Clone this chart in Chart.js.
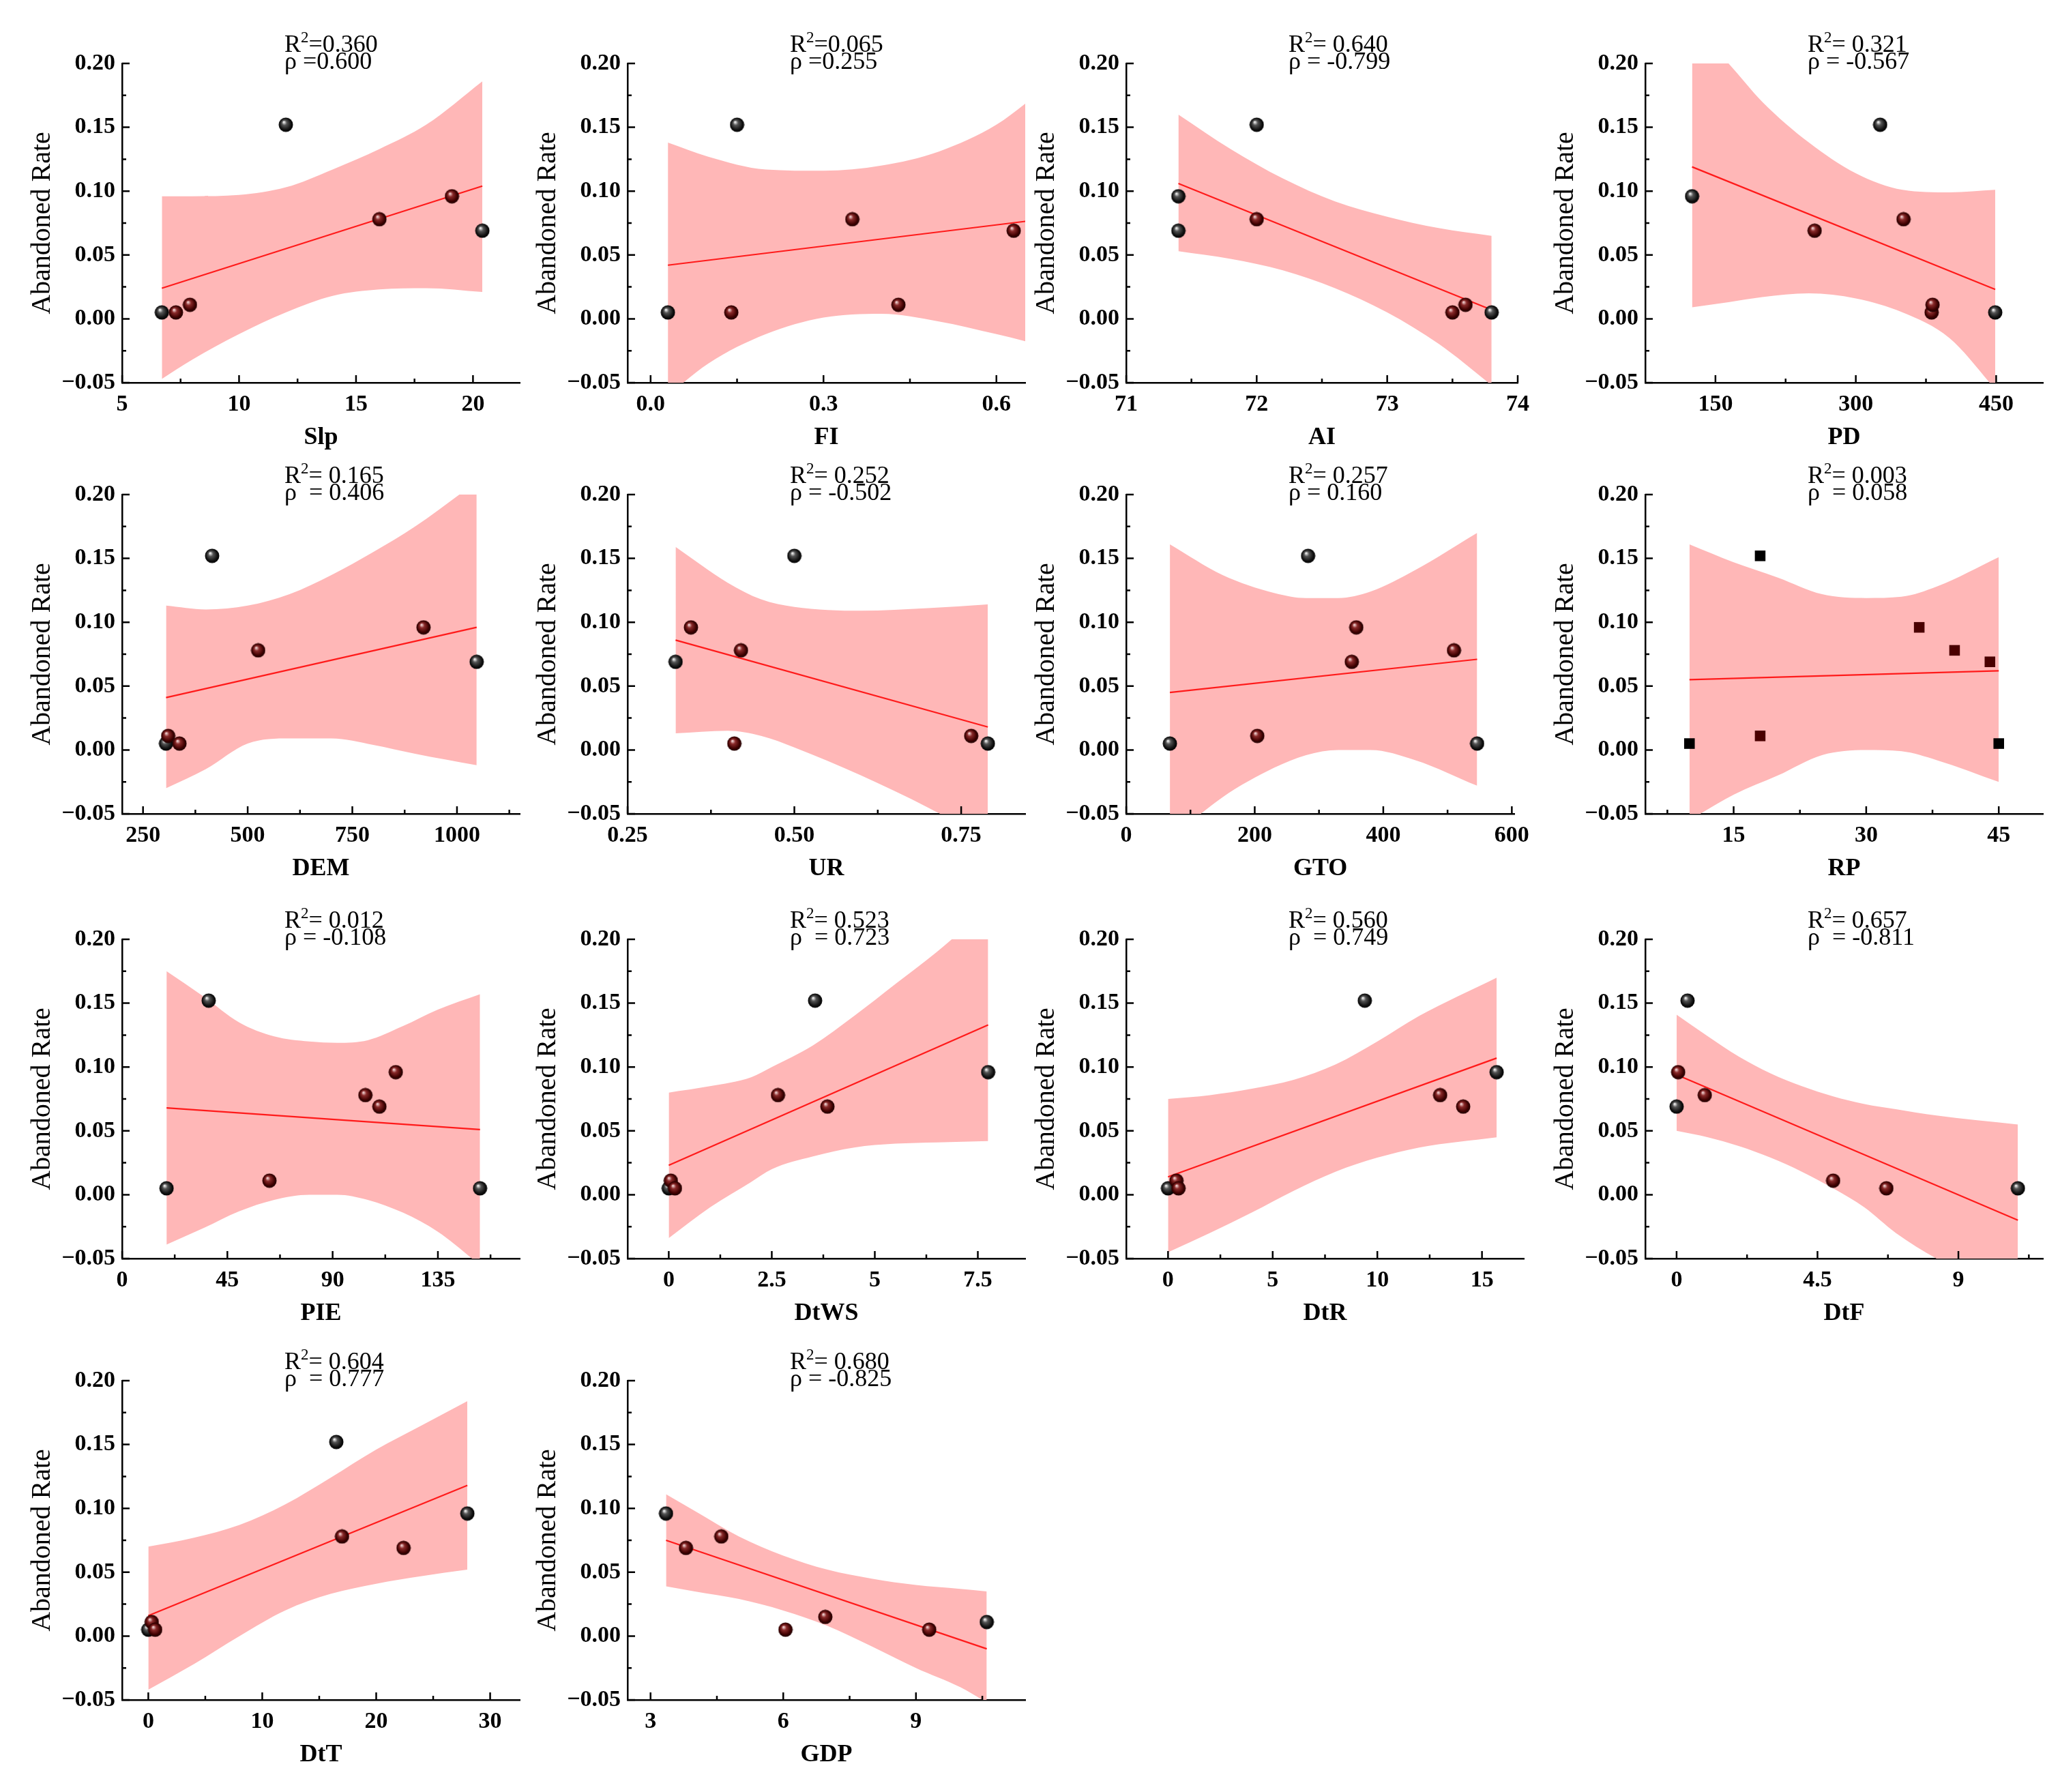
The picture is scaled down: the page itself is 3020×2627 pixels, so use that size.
<!DOCTYPE html>
<html>
<head>
<meta charset="utf-8">
<script src="https://cdn.jsdelivr.net/npm/chart.js@4.4.1/dist/chart.umd.min.js"></script>
<style>
  html, body { margin: 0; padding: 0; background: #fff; }
  #wrap { position: relative; width: 3020px; height: 2627px; }
  canvas { position: absolute; }
</style>
</head>
<body>
<div id="wrap"></div>
<script>
const names = ['Slp', 'FI', 'AI', 'PD', 'DEM', 'UR', 'GTO', 'RP', 'PIE', 'DtWS', 'DtR', 'DtF', 'DtT', 'GDP'];
const r2Text = ['=0.360', '=0.065', '= 0.640', '= 0.321', '= 0.165', '= 0.252', '= 0.257',
  '= 0.003', '= 0.012', '= 0.523', '= 0.560', '= 0.657', '= 0.604', '= 0.680'];
const rhoText = ['ρ =0.600', 'ρ =0.255', 'ρ = -0.799', 'ρ = -0.567', 'ρ  = 0.406', 'ρ = -0.502', 'ρ = 0.160',
  'ρ  = 0.058', 'ρ = -0.108', 'ρ  = 0.723', 'ρ  = 0.749', 'ρ  = -0.811', 'ρ  = 0.777', 'ρ = -0.825'];

const xMin = [5, -0.04, 71, 75, 200, 0.25, 0, 5, 0, -1, -2, -1, -2.3, 2.48];
const xMax = [22, 0.65, 74, 500, 1150, 0.846, 604, 50, 170, 8.65, 17, 11.7, 32.6, 11.47];
const xTicks = [
  [5, 10, 15, 20], [0, 0.3, 0.6], [71, 72, 73, 74], [150, 300, 450], [250, 500, 750, 1000],
  [0.25, 0.5, 0.75], [0, 200, 400, 600], [15, 30, 45], [0, 45, 90, 135], [0, 2.5, 5, 7.5],
  [0, 5, 10, 15], [0, 4.5, 9], [0, 10, 20, 30], [3, 6, 9],
];
const xTickLabels = [
  ['5', '10', '15', '20'], ['0.0', '0.3', '0.6'], ['71', '72', '73', '74'], ['150', '300', '450'],
  ['250', '500', '750', '1000'], ['0.25', '0.50', '0.75'], ['0', '200', '400', '600'], ['15', '30', '45'],
  ['0', '45', '90', '135'], ['0', '2.5', '5', '7.5'], ['0', '5', '10', '15'], ['0', '4.5', '9'],
  ['0', '10', '20', '30'], ['3', '6', '9'],
];
const yTicks = [-0.05, 0, 0.05, 0.1, 0.15, 0.2];
const yTickLabels = ['\u22120.05', '0.00', '0.05', '0.10', '0.15', '0.20'];

const xVals = [
  [6.7, 7.3, 7.9, 12, 16, 19.1, 20.4],
  [0.03, 0.14, 0.15, 0.35, 0.43, 0.63, 0.68],
  [71.4, 71.4, 72, 72, 73.5, 73.6, 73.8],
  [125, 256, 326, 351, 381, 382, 449],
  [305, 310, 337, 415, 525, 920, 1047],
  [0.322, 0.345, 0.41, 0.42, 0.5, 0.765, 0.79],
  [68, 204, 283, 351, 358, 510, 546],
  [10, 18, 18, 36, 40, 44, 45],
  [19, 37, 63, 104, 110, 117, 153],
  [0, 0.05, 0.15, 2.65, 3.55, 3.85, 7.75],
  [0, 0.4, 0.5, 9.4, 13, 14.1, 15.7],
  [0, 0.05, 0.35, 0.9, 5, 6.7, 10.9],
  [0, 0.3, 0.6, 16.5, 17, 22.4, 28],
  [3.35, 3.8, 4.6, 6.05, 6.95, 9.3, 10.6],
];
const yVals = [
  [0.005, 0.005, 0.011, 0.152, 0.078, 0.096, 0.069],
  [0.005, 0.005, 0.152, 0.078, 0.011, 0.069, 0.096],
  [0.096, 0.069, 0.152, 0.078, 0.005, 0.011, 0.005],
  [0.096, 0.069, 0.152, 0.078, 0.005, 0.011, 0.005],
  [0.005, 0.011, 0.005, 0.152, 0.078, 0.096, 0.069],
  [0.069, 0.096, 0.005, 0.078, 0.152, 0.011, 0.005],
  [0.005, 0.011, 0.152, 0.069, 0.096, 0.078, 0.005],
  [0.005, 0.152, 0.011, 0.096, 0.078, 0.069, 0.005],
  [0.005, 0.152, 0.011, 0.078, 0.069, 0.096, 0.005],
  [0.005, 0.011, 0.005, 0.078, 0.152, 0.069, 0.096],
  [0.005, 0.011, 0.005, 0.152, 0.078, 0.069, 0.096],
  [0.069, 0.096, 0.152, 0.078, 0.011, 0.005, 0.005],
  [0.005, 0.011, 0.005, 0.152, 0.078, 0.069, 0.096],
  [0.096, 0.069, 0.078, 0.005, 0.015, 0.005, 0.011],
];

// regression line end points
const fitX = [[6.7, 20.4], [0.03, 0.68], [71.4, 73.8], [125, 449], [305, 1047], [0.322, 0.79], [68, 546],
  [10, 45], [19, 153], [0, 7.75], [0, 15.7], [0, 10.9], [0, 28], [3.35, 10.6]];
const fitY = [[0.024, 0.104], [0.042, 0.078], [0.106, 0.007], [0.119, 0.023], [0.041, 0.096], [0.086, 0.018],
  [0.045, 0.071], [0.055, 0.062], [0.068, 0.051], [0.023, 0.133], [0.014, 0.107], [0.094, -0.02],
  [0.016, 0.118], [0.075, -0.01]];

// confidence band
const bandX = [
  [6.7, 8, 10, 12, 14, 16, 18, 20.4],
  [0.03, 0.1, 0.2, 0.3, 0.4, 0.5, 0.6, 0.68],
  [71.4, 71.8, 72.2, 72.6, 73, 73.4, 73.8],
  [125, 164, 200, 250, 300, 350, 400, 449],
  [305, 400, 500, 600, 700, 800, 900, 1047],
  [0.322, 0.4, 0.45, 0.5, 0.6, 0.7, 0.79],
  [68, 150, 230, 280, 330, 380, 450, 546],
  [10, 15, 20, 25, 30, 34, 38, 45],
  [19, 35, 50, 65, 80, 92, 105, 120, 135, 153],
  [0, 1, 2, 2.5, 3.5, 4.5, 5.5, 6.5, 7.75],
  [0, 2, 4, 6, 8, 10, 12, 15.7],
  [0, 1, 2, 3, 4, 5, 6, 7, 8.3, 10.9],
  [0, 4, 8, 12, 16, 20, 24, 28],
  [3.35, 4, 5, 6, 7, 8, 9, 10, 10.6],
];
const bandHi = [
  [0.096, 0.096, 0.097, 0.103, 0.117, 0.133, 0.152, 0.186],
  [0.138, 0.127, 0.117, 0.116, 0.12, 0.131, 0.152, 0.179],
  [0.16, 0.133, 0.11, 0.092, 0.08, 0.071, 0.065],
  [0.23, 0.2, 0.17, 0.138, 0.114, 0.101, 0.099, 0.101],
  [0.113, 0.11, 0.113, 0.122, 0.137, 0.155, 0.175, 0.21],
  [0.159, 0.131, 0.118, 0.112, 0.109, 0.111, 0.114],
  [0.161, 0.137, 0.123, 0.119, 0.119, 0.124, 0.141, 0.17],
  [0.161, 0.147, 0.135, 0.122, 0.119, 0.12, 0.128, 0.151],
  [0.175, 0.155, 0.135, 0.124, 0.12, 0.119, 0.121, 0.132, 0.145, 0.157],
  [0.08, 0.085, 0.092, 0.1, 0.117, 0.14, 0.165, 0.19, 0.225],
  [0.075, 0.078, 0.083, 0.09, 0.102, 0.12, 0.14, 0.17],
  [0.141, 0.124, 0.108, 0.095, 0.085, 0.077, 0.071, 0.067, 0.062, 0.055],
  [0.07, 0.077, 0.087, 0.103, 0.124, 0.146, 0.165, 0.184],
  [0.111, 0.098, 0.078, 0.063, 0.052, 0.045, 0.04, 0.037, 0.035],
];
const bandLo = [
  [-0.047, -0.032, -0.012, 0.005, 0.018, 0.023, 0.024, 0.021],
  [-0.06, -0.035, -0.012, 0.001, 0.004, -0.002, -0.012, -0.021],
  [0.053, 0.047, 0.038, 0.024, 0.005, -0.02, -0.052],
  [0.009, 0.013, 0.017, 0.02, 0.016, 0.005, -0.015, -0.055],
  [-0.03, -0.015, 0.005, 0.009, 0.009, 0.004, -0.003, -0.012],
  [0.013, 0.015, 0.011, 0.002, -0.02, -0.045, -0.07],
  [-0.07, -0.037, -0.014, -0.004, 0, 0, -0.008, -0.028],
  [-0.055, -0.035, -0.02, -0.004, 0, -0.001, -0.008, -0.025],
  [-0.039, -0.026, -0.013, -0.004, 0, 0, -0.004, -0.014, -0.029, -0.055],
  [-0.034, -0.01, 0.01, 0.02, 0.03, 0.037, 0.04, 0.041, 0.042],
  [-0.045, -0.03, -0.014, 0.003, 0.018, 0.029, 0.037, 0.045],
  [0.05, 0.045, 0.038, 0.029, 0.018, 0.005, -0.01, -0.03, -0.05, -0.08],
  [-0.042, -0.022, 0, 0.02, 0.033, 0.041, 0.047, 0.052],
  [0.039, 0.035, 0.029, 0.02, 0.008, -0.008, -0.025, -0.04, -0.052],
];

const colLeft = [179, 920, 1651, 2412];
const rowTop = [93, 725, 1377, 2024];
const PLOT_W = 583;
const PLOT_H = 468;
const PAD_TOP = 110;
const AXIS_H = 130;
const Y_W = 179;
const SERIF = '"Liberation Serif", "DejaVu Serif", serif';

function sphere(black) {
  const c = document.createElement('canvas');
  c.width = 22; c.height = 22;
  const g = c.getContext('2d');
  const grad = g.createRadialGradient(8, 7, 0.5, 11, 11, 11);
  if (black) {
    grad.addColorStop(0, '#f4f4f4');
    grad.addColorStop(0.3, '#555');
    grad.addColorStop(0.75, '#111');
    grad.addColorStop(1, '#000');
  } else {
    grad.addColorStop(0, '#f3d6d6');
    grad.addColorStop(0.3, '#8a2a2a');
    grad.addColorStop(0.75, '#3d0000');
    grad.addColorStop(1, '#1a0000');
  }
  g.fillStyle = grad;
  g.beginPath();
  g.arc(11, 11, 10.5, 0, Math.PI * 2);
  g.fill();
  return c;
}
const redBall = sphere(false);
const blackBall = sphere(true);

function minorOf(ticks, min, max) {
  const step = ticks.length > 1 ? ticks[1] - ticks[0] : 1;
  const out = [];
  for (let v = ticks[0] - step / 2; v > min; v -= step) out.push(v);
  for (let v = ticks[0] + step / 2; v < max; v += step) out.push(v);
  return out;
}

const decor = {
  id: 'decor',
  afterDraw(chart, args, o) {
    const { ctx, chartArea: a, scales: { x, y } } = chart;
    ctx.save();
    ctx.strokeStyle = '#000';
    ctx.lineWidth = 2.5;
    ctx.beginPath();
    o.xt.forEach((v) => { const p = x.getPixelForValue(v); ctx.moveTo(p, a.bottom); ctx.lineTo(p, a.bottom - 11); });
    minorOf(o.xt, o.xmin, o.xmax).forEach((v) => { const p = x.getPixelForValue(v); ctx.moveTo(p, a.bottom); ctx.lineTo(p, a.bottom - 6); });
    yTicks.forEach((v) => { const p = y.getPixelForValue(v); ctx.moveTo(a.left, p); ctx.lineTo(a.left + 11, p); });
    minorOf(yTicks, -0.05, 0.2).forEach((v) => { const p = y.getPixelForValue(v); ctx.moveTo(a.left, p); ctx.lineTo(a.left + 6, p); });
    ctx.stroke();

    // R2 / rho text
    ctx.fillStyle = '#000';
    ctx.textAlign = 'left';
    ctx.textBaseline = 'alphabetic';
    const tx = a.left + 238;
    ctx.font = `36px ${SERIF}`;
    ctx.fillText('R', tx, a.top - 17);
    const rw = ctx.measureText('R').width;
    ctx.font = `23px ${SERIF}`;
    ctx.fillText('2', tx + rw, a.top - 31);
    const sw = ctx.measureText('2').width;
    ctx.font = `36px ${SERIF}`;
    ctx.fillText(o.r2, tx + rw + sw, a.top - 17);
    ctx.fillText(o.rho, tx, a.top + 8);

    // x axis title
    ctx.font = `bold 36px ${SERIF}`;
    ctx.textAlign = 'center';
    ctx.fillText(o.name, (a.left + a.right) / 2, a.bottom + 90);

    // y axis title
    ctx.font = `40px ${SERIF}`;
    ctx.translate(62, (a.top + a.bottom) / 2);
    ctx.rotate(-Math.PI / 2);
    ctx.textBaseline = 'middle';
    ctx.fillText('Abandoned Rate', 0, 0);
    ctx.restore();
  },
};

const wrap = document.getElementById('wrap');

names.forEach((name, i) => {
  const col = i % 4;
  const row = Math.floor(i / 4);
  const canvas = document.createElement('canvas');
  const w = Y_W + PLOT_W + 20;
  const h = PAD_TOP + PLOT_H + AXIS_H;
  canvas.style.left = `${colLeft[col] - Y_W}px`;
  canvas.style.top = `${rowTop[row] - PAD_TOP}px`;
  canvas.style.width = `${w}px`;
  canvas.style.height = `${h}px`;
  canvas.width = w;
  canvas.height = h;
  wrap.appendChild(canvas);

  const xs = xVals[i];
  const lo = Math.min(...xs);
  const hi = Math.max(...xs);
  const ys = yVals[i];
  const points = xs.map((v, k) => ({ x: v, y: ys[k] }));
  const isBlack = xs.map((v, k) => ys[k] === 0.152 || v === lo || v === hi);
  const square = name === 'RP';

  new Chart(canvas, {
    type: 'scatter',
    data: {
      datasets: [
        {
          data: points,
          order: 0,
          pointStyle: square ? 'rect' : isBlack.map((b) => (b ? blackBall : redBall)),
          pointRadius: square ? 11 : 11,
          pointBackgroundColor: isBlack.map((b) => (b ? '#000' : '#4a0000')),
          pointBorderWidth: 0,
          borderWidth: 0,
        },
        {
          data: fitX[i].map((v, k) => ({ x: v, y: fitY[i][k] })),
          order: 1,
          showLine: true,
          borderColor: '#ff1a1a',
          borderWidth: 2.2,
          pointRadius: 0,
        },
        {
          data: bandX[i].map((v, k) => ({ x: v, y: bandLo[i][k] })),
          order: 3,
          showLine: true,
          borderWidth: 0,
          pointRadius: 0,
          cubicInterpolationMode: 'monotone',
          fill: false,
        },
        {
          data: bandX[i].map((v, k) => ({ x: v, y: bandHi[i][k] })),
          order: 2,
          showLine: true,
          borderWidth: 0,
          pointRadius: 0,
          cubicInterpolationMode: 'monotone',
          fill: { target: '-1' },
          backgroundColor: '#ffb7b7',
        },
      ],
    },
    options: {
      responsive: false,
      animation: false,
      devicePixelRatio: 1,
      layout: { padding: { top: PAD_TOP, right: 20, left: 0, bottom: 0 } },
      plugins: {
        legend: { display: false },
        tooltip: { enabled: false },
        filler: { propagate: false },
        decor: { name, r2: r2Text[i], rho: rhoText[i], xt: xTicks[i], xmin: xMin[i], xmax: xMax[i] },
      },
      scales: {
        x: {
          type: 'linear',
          min: xMin[i],
          max: xMax[i],
          afterBuildTicks(s) { s.ticks = xTicks[i].map((v) => ({ value: v })); },
          afterFit(s) { s.height = AXIS_H; },
          grid: { display: false, drawTicks: false },
          border: { display: true, color: '#000', width: 2.5 },
          ticks: {
            padding: 12,
            maxRotation: 0,
            autoSkip: false,
            color: '#000',
            font: { family: SERIF, size: 34, weight: 'bold' },
            callback(v, k) { return xTickLabels[i][k]; },
          },
        },
        y: {
          min: -0.05,
          max: 0.2,
          afterBuildTicks(s) { s.ticks = yTicks.map((v) => ({ value: v })); },
          afterFit(s) { s.width = Y_W; },
          grid: { display: false, drawTicks: false },
          border: { display: true, color: '#000', width: 2.5 },
          ticks: {
            padding: 10,
            autoSkip: false,
            color: '#000',
            font: { family: SERIF, size: 34, weight: 'bold' },
            callback(v, k) { return yTickLabels[k]; },
          },
        },
      },
    },
    plugins: [decor],
  });
});
</script>
</body>
</html>
